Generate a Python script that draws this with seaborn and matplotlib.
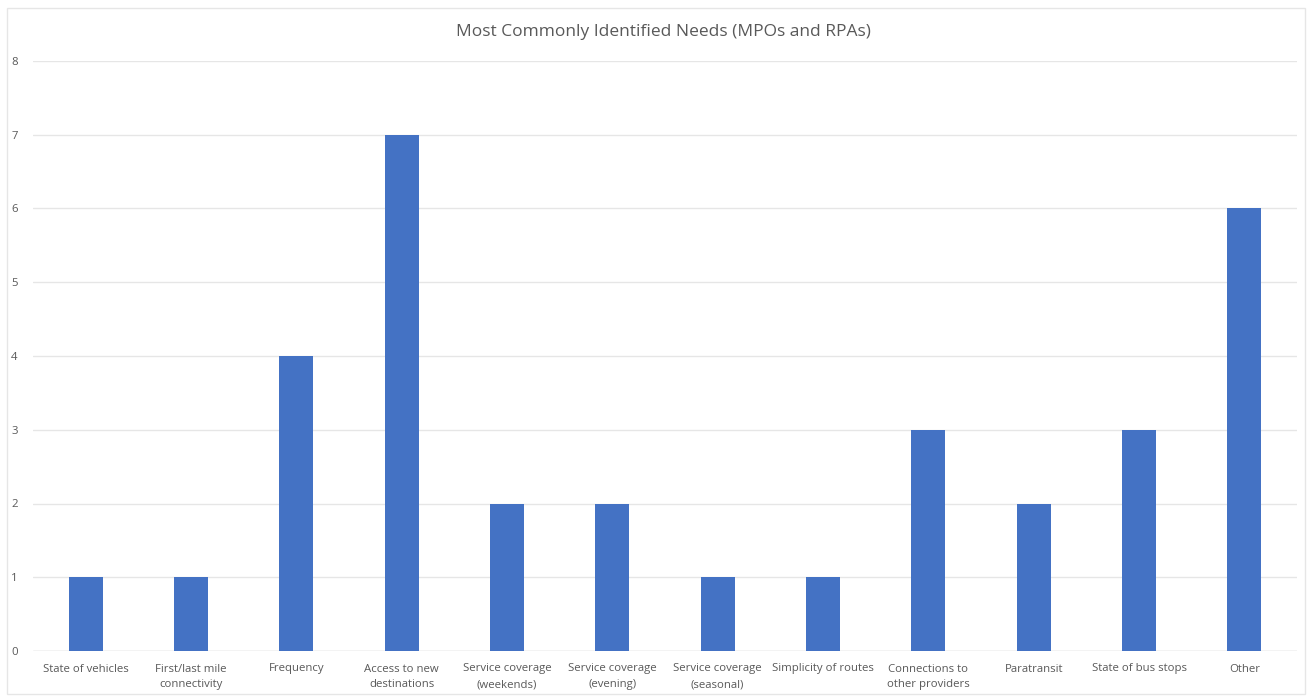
import matplotlib
matplotlib.use("Agg")
import matplotlib.pyplot as plt
import seaborn as sns
import pandas as pd
from matplotlib.patches import Rectangle

categories = [
    "State of vehicles",
    "First/last mile\nconnectivity",
    "Frequency",
    "Access to new\ndestinations",
    "Service coverage\n(weekends)",
    "Service coverage\n(evening)",
    "Service coverage\n(seasonal)",
    "Simplicity of routes",
    "Connections to\nother providers",
    "Paratransit",
    "State of bus stops",
    "Other",
]
counts = [1, 1, 4, 7, 2, 2, 1, 1, 3, 2, 3, 6]
y_ticks = [0, 1, 2, 3, 4, 5, 6, 7, 8]
title = "Most Commonly Identified Needs (MPOs and RPAs)"

df = pd.DataFrame({"category": categories, "count": counts})

sns.set_theme(style="white")
plt.rcParams["font.family"] = ["Open Sans", "DejaVu Sans"]

fig = plt.figure(figsize=(13.09, 6.96), dpi=100)
ax = fig.add_axes([33 / 1309, 1 - 651 / 696, (1297 - 33) / 1309, (651 - 61) / 696])

sns.barplot(data=df, x="category", y="count", color="#4472C4", width=0.32,
            saturation=1, linewidth=0, ax=ax, zorder=3)

ax.set_ylim(0, 8)
ax.set_xlim(-0.5, len(categories) - 0.5)
ax.set_yticks(y_ticks)
ax.set_yticklabels([str(v) for v in y_ticks])
ax.yaxis.grid(True, color="#E6E6E6", linewidth=1.0, zorder=0)
ax.set_axisbelow(True)
for s in ax.spines.values():
    s.set_visible(False)
ax.axhline(0, color="#D9D9D9", linewidth=1.0, zorder=2)
ax.set_xlabel("")
ax.set_ylabel("")
ax.tick_params(axis="both", length=0, labelsize=8.2, labelcolor="#595959")
ax.tick_params(axis="y", pad=11)
ax.tick_params(axis="x", pad=9)
for lbl in ax.get_xticklabels():
    lbl.set_linespacing(1.6)

fig.text(663 / 1309, 1 - 32 / 696, title, ha="center", va="center",
         fontsize=12.5, color="#595959")

fig.patches.append(Rectangle((7 / 1309, 2 / 696), 1298 / 1309, 686 / 696,
                             transform=fig.transFigure, fill=False,
                             edgecolor="#E6E6E6", linewidth=1.0))

fig.savefig("out.png", dpi=100, facecolor="white")
